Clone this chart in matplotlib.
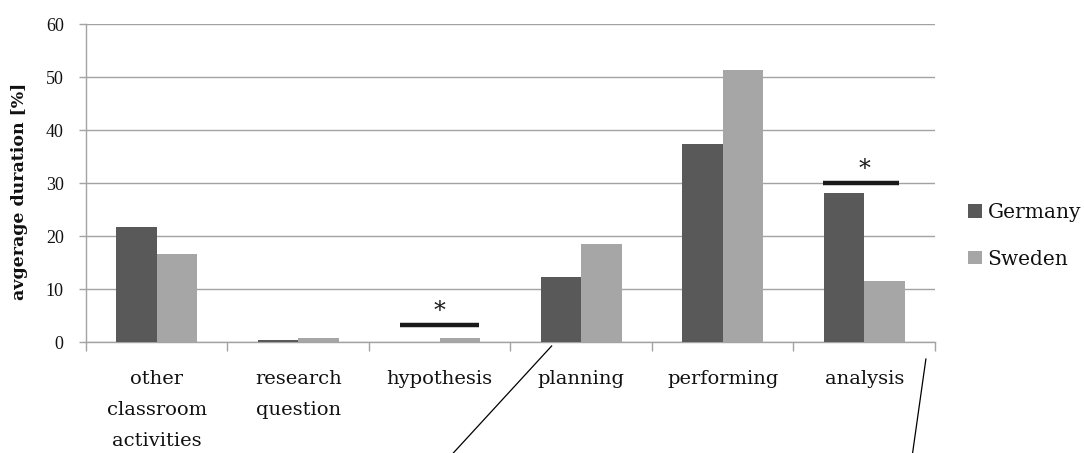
import numpy as np
import matplotlib
matplotlib.use('Agg')
import matplotlib.pyplot as plt

# data
categories = ['other\nclassroom\nactivities', 'research\nquestion', 'hypothesis',
              'planning', 'performing', 'analysis']
germany = [21.7, 0.4, 0.0, 12.3, 37.3, 28.1]
sweden = [16.6, 0.8, 0.8, 18.4, 51.3, 11.6]
series_names = ['Germany', 'Sweden']

# significance marks: category index, height of bar line
sig_cats = [2, 5]
sig_levels = [3.2, 30.0]

plt.rcParams['font.family'] = ['DejaVu Serif']

fig = plt.figure(figsize=(10.84, 4.53), dpi=100)
ax = fig.add_axes([0.0793, 0.245, 0.7832, 0.702])

grid_c = '#a3a3a3'
x = np.arange(len(categories))
w = 0.2875
ax.bar(x - w/2, germany, w, color='#595959', label=series_names[0], zorder=3)
ax.bar(x + w/2, sweden, w, color='#a6a6a6', label=series_names[1], zorder=3)

# significance bars with stars
sig_ends = [(-0.279, 0.277), (-0.289, 0.245)]
for c, lvl, (a, b) in zip(sig_cats, sig_levels, sig_ends):
    ax.plot([c + a, c + b], [lvl, lvl], color='#1a1a1a', lw=3.2,
            solid_capstyle='butt', zorder=4)
    ax.text(c, lvl + 0.4, '*', ha='center', va='bottom', fontsize=17,
            color='#1a1a1a', zorder=4)

# leader lines running out of the frame
ax.plot([2.791, 2.096], [-0.75, -20.94], color='black', lw=0.9, clip_on=False)
ax.plot([5.436, 5.342], [-3.21, -20.94], color='black', lw=0.9, clip_on=False)

ax.set_xlim(-0.5, 5.5)
ax.set_ylim(0, 60)
ax.set_yticks(np.arange(0, 61, 10))
ax.yaxis.grid(True, color=grid_c, lw=1.0, zorder=0)
ax.set_axisbelow(True)

for s in ['top', 'right']:
    ax.spines[s].set_visible(False)
for s in ['left', 'bottom']:
    ax.spines[s].set_color(grid_c)
    ax.spines[s].set_linewidth(1.0)

ax.set_xticks(x)
ax.set_xticklabels(categories, fontsize=14, linespacing=1.93, color='#111111')
ax.set_xticks(np.arange(-0.5, 6.0, 1.0), minor=True)
ax.tick_params(axis='x', which='major', length=0, pad=20)
ax.tick_params(axis='x', which='minor', length=6.5, width=1.0, color=grid_c,
               direction='out')
ax.tick_params(axis='y', length=5, width=1.0, color=grid_c, pad=11)
for t in ax.get_yticklabels():
    t.set_family('Liberation Serif')
    t.set_fontsize(13)
    t.set_color('#111111')

ax.set_ylabel('avgerage duration [%]', fontsize=12.5, fontweight='bold',
              color='#111111')
ax.yaxis.set_label_coords(-0.0683, 0.475)

leg = ax.legend(loc='center left', bbox_to_anchor=(968/1084, 1 - 236/453),
                bbox_transform=fig.transFigure, frameon=False, fontsize=14.5,
                handlelength=0.68, handleheight=0.68, handletextpad=0.3,
                labelspacing=1.35, borderpad=0, borderaxespad=0)
for t in leg.get_texts():
    t.set_color('#111111')

fig.savefig('out.png', dpi=100)
